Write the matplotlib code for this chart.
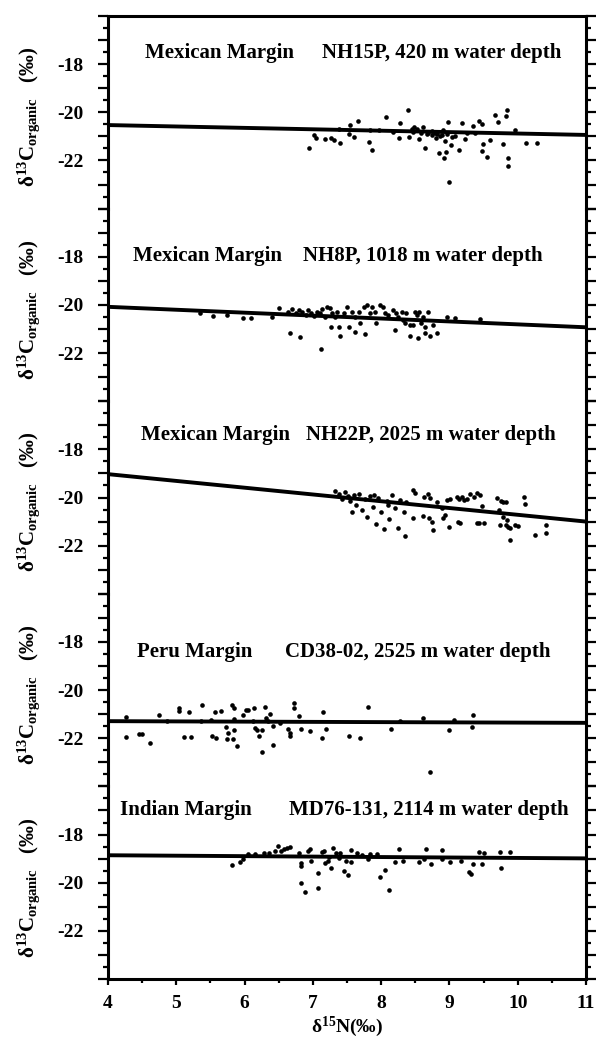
import matplotlib
matplotlib.use("Agg")
import matplotlib.pyplot as plt
from matplotlib.ticker import MultipleLocator, FixedLocator, FixedFormatter

plt.rcParams.update({
    "font.family": ["Liberation Serif", "DejaVu Serif"],
    "font.weight": "bold",
    "mathtext.fontset": "custom",
    "mathtext.rm": "Liberation Serif:bold",
    "mathtext.it": "Liberation Serif:italic:bold",
    "mathtext.bf": "Liberation Serif:bold",
})

# ---------------- data ----------------
sites = ["Mexican Margin", "Mexican Margin", "Mexican Margin", "Peru Margin", "Indian Margin"]
cores = ["NH15P, 420 m water depth", "NH8P, 1018 m water depth", "NH22P, 2025 m water depth",
         "CD38-02, 2525 m water depth", "MD76-131, 2114 m water depth"]

p1_x = [6.95, 7.01, 7.05, 7.18, 7.26, 7.31, 7.40, 7.39, 7.53, 7.54, 7.60, 7.66, 7.84, 7.82, 7.86,
        7.97, 8.07, 8.17, 8.26, 8.28, 8.40, 8.41, 8.45, 8.48, 8.53, 8.56, 8.62, 8.64, 8.69, 8.74,
        8.79, 8.81, 8.84, 8.89, 8.90, 8.93, 8.92, 8.95, 8.98, 9.00, 9.02, 9.14, 9.18, 9.23, 9.25,
        9.35, 9.37, 9.43, 9.47, 9.49, 9.47, 9.55, 9.59, 9.67, 9.71, 9.78, 9.83, 9.85, 9.86, 9.86,
        9.96, 10.12, 10.28, 8.67, 8.74, 8.82, 8.86, 8.96, 9.04, 9.08, 8.58, 8.47]
p1_y = [-21.49, -20.95, -21.08, -21.12, -21.05, -21.16, -21.28, -20.70, -20.91, -20.53, -21.01,
        -20.35, -20.74, -21.23, -21.56, -20.74, -20.18, -20.80, -21.05, -20.46, -19.90, -21.01,
        -20.70, -20.59, -20.70, -21.09, -20.63, -21.47, -20.84, -20.77, -20.84, -21.05, -21.68,
        -20.95, -20.74, -21.19, -21.91, -21.64, -20.39, -22.90, -21.36, -21.56, -20.45, -21.09,
        -20.88, -20.56, -20.84, -20.35, -20.49, -21.30, -21.61, -21.85, -21.16, -20.11, -20.39,
        -21.30, -20.17, -19.89, -21.89, -22.21, -20.73, -21.27, -21.27, -20.90, -20.94, -20.90,
        -20.98, -20.90, -21.02, -20.98, -20.85, -20.81]

p2_x = [5.74, 5.97, 6.10, 6.40, 6.51, 6.64, 6.69, 6.75, 6.79, 6.84, 6.90, 6.93, 6.97, 7.01, 7.06,
        7.10, 7.13, 7.18, 7.21, 7.25, 7.28, 7.26, 7.32, 7.36, 7.39, 7.45, 7.50, 7.53, 7.57, 7.62,
        7.67, 7.69, 7.75, 7.79, 7.83, 7.86, 7.91, 7.93, 7.98, 8.02, 8.06, 8.10, 8.18, 8.22, 8.25,
        8.30, 8.32, 8.35, 8.37, 8.42, 8.47, 8.50, 8.53, 8.56, 8.59, 8.62, 8.69, 8.64, 8.76, 8.97,
        5.35, 5.54, 7.12, 6.81, 6.67, 7.40, 7.62, 7.76, 8.20, 8.42, 8.54, 8.64, 8.72, 8.82, 9.08, 9.45]
p2_y = [-20.42, -20.53, -20.56, -20.49, -20.14, -20.28, -20.18, -20.32, -20.21, -20.28, -20.42,
        -20.21, -20.32, -20.46, -20.28, -20.35, -20.18, -20.49, -20.07, -20.14, -20.32, -20.90,
        -20.49, -20.28, -20.93, -20.35, -20.10, -20.93, -20.28, -20.49, -20.28, -20.76, -20.07,
        -20.00, -20.35, -20.10, -20.28, -20.76, -20.00, -20.10, -20.35, -20.42, -20.21, -20.35,
        -20.49, -20.28, -20.63, -20.76, -20.35, -20.83, -20.83, -20.28, -20.42, -20.28, -20.76,
        -20.49, -20.28, -20.90, -20.83, -20.49, -20.34, -20.46, -21.83, -21.33, -21.17, -21.29,
        -21.12, -21.21, -21.04, -21.29, -21.37, -21.17, -21.29, -21.17, -20.55, -20.60]

p3_x = [8.33, 8.35, 8.37, 8.46, 8.47, 8.50, 8.61, 8.63, 8.69, 8.72, 8.70, 8.76, 8.74, 8.82, 8.89,
        8.90, 8.93, 8.96, 9.00, 9.01, 9.11, 9.12, 9.15, 9.14, 9.19, 9.21, 9.25, 9.30, 9.36, 9.41,
        9.45, 9.48, 9.40, 9.44, 9.50, 9.69, 9.72, 9.74, 9.76, 9.79, 9.83, 9.79, 9.83, 9.86, 9.85,
        9.88, 9.89, 9.96, 10.01, 10.09, 10.10, 10.26, 10.41, 10.42,
        7.33, 7.38, 7.42, 7.47, 7.52, 7.55, 7.60, 7.63, 7.68, 7.72, 7.76, 7.80, 7.84, 7.88, 7.92,
        7.96, 8.00, 8.04, 8.08, 8.12, 8.16, 8.20, 8.24, 8.27, 7.58, 7.90, 8.10]
p3_y = [-20.61, -21.60, -20.17, -20.86, -19.69, -19.83, -20.77, -19.96, -19.87, -20.03, -20.86,
        -21.35, -21.00, -20.17, -20.45, -20.86, -20.73, -20.10, -21.21, -20.07, -19.96, -21.00,
        -21.07, -20.07, -19.99, -20.10, -20.07, -19.85, -19.99, -19.83, -19.90, -20.35, -21.04,
        -21.04, -21.04, -20.03, -20.52, -21.14, -20.13, -20.17, -20.17, -20.79, -21.14, -21.21,
        -20.93, -21.76, -21.28, -21.14, -21.18, -19.96, -20.27, -21.56, -21.49, -21.14,
        -19.75, -19.85, -20.05, -19.78, -19.95, -20.15, -19.90, -20.30, -19.85, -20.50, -20.05,
        -20.80, -19.95, -20.40, -21.10, -20.00, -20.60, -21.30, -20.15, -20.90, -19.90, -20.45,
        -21.25, -20.10, -20.60, -19.90, -20.30]

p4_x = [4.27, 4.26, 4.46, 4.50, 4.62, 4.75, 4.86, 5.04, 5.04, 5.18, 5.11, 5.21, 5.37, 5.36, 5.51,
        5.53, 5.58, 5.57, 5.66, 5.73, 5.76, 5.74, 5.81, 5.84, 5.84, 5.84, 5.83, 5.89, 5.98, 6.02,
        6.05, 6.14, 6.12, 6.15, 6.18, 6.21, 6.25, 6.26, 6.30, 6.32, 6.37, 6.35, 6.41, 6.42, 6.52,
        6.63, 6.66, 6.67, 6.73, 6.72, 6.80, 6.82, 6.96, 7.13, 7.15, 7.19, 7.53, 7.69, 7.81, 8.14,
        8.28, 8.62, 8.72, 8.99, 9.07, 9.34, 9.33]
p4_y = [-21.13, -21.93, -21.82, -21.82, -22.21, -21.05, -21.30, -20.74, -20.88, -20.92, -21.93,
        -21.93, -20.62, -21.30, -21.26, -21.90, -21.97, -20.92, -20.85, -21.55, -21.79, -22.04,
        -20.60, -20.76, -21.19, -21.65, -22.04, -22.32, -21.05, -20.81, -20.81, -20.76, -21.30,
        -21.58, -21.65, -21.89, -22.56, -21.65, -20.71, -21.16, -20.99, -21.30, -22.28, -21.51,
        -21.37, -21.61, -21.79, -21.89, -20.53, -20.74, -21.09, -21.61, -21.69, -22.00, -20.91,
        -21.61, -21.89, -22.00, -20.71, -21.61, -21.30, -21.16, -23.40, -21.65, -21.23, -21.05,
        -21.55]

p5_x = [5.81, 5.93, 5.97, 6.05, 6.16, 6.28, 6.36, 6.44, 6.49, 6.54, 6.58, 6.62, 6.66, 6.80, 6.83,
        6.82, 6.82, 6.88, 6.93, 6.98, 6.96, 7.07, 7.08, 7.13, 7.17, 7.18, 7.22, 7.24, 7.27, 7.30,
        7.34, 7.38, 7.40, 7.45, 7.48, 7.52, 7.56, 7.56, 7.64, 7.72, 7.81, 7.83, 7.94, 7.99, 8.05,
        8.12, 8.21, 8.26, 8.32, 8.55, 8.63, 8.66, 8.73, 8.89, 8.89, 9.01, 9.17, 9.29, 9.32, 9.34,
        9.44, 9.48, 9.50, 9.74, 9.75, 9.88]
p5_y = [-19.27, -19.13, -19.03, -18.80, -18.80, -18.76, -18.76, -18.69, -18.48, -18.69, -18.62,
        -18.55, -18.52, -18.76, -19.17, -19.31, -20.00, -20.37, -18.69, -19.08, -18.62, -19.59,
        -20.23, -18.72, -18.69, -19.17, -19.10, -18.94, -19.38, -18.55, -18.76, -18.97, -18.76,
        -19.52, -19.08, -19.68, -18.66, -19.13, -18.76, -18.83, -19.03, -18.80, -18.80, -19.77,
        -19.49, -20.32, -19.13, -18.62, -19.10, -19.13, -19.03, -18.62, -19.21, -18.66, -19.03,
        -19.14, -19.10, -19.54, -19.63, -19.21, -18.72, -19.21, -18.76, -18.72, -19.38, -18.72]

fit_x = [4, 11]
fit_y1 = [-20.53, -20.94]
fit_y2 = [-20.08, -20.93]
fit_y3 = [-19.03, -21.00]
fit_y4 = [-21.29, -21.36]
fit_y5 = [-18.86, -18.99]

xs = [p1_x, p2_x, p3_x, p4_x, p5_x]
ys = [p1_y, p2_y, p3_y, p4_y, p5_y]
fits = [fit_y1, fit_y2, fit_y3, fit_y4, fit_y5]

title_y = [-17.55, -17.95, -17.40, -18.42, -17.00]
site_x = [4.54, 4.37, 4.49, 4.42, 4.17]
core_x = [7.13, 6.86, 6.90, 6.59, 6.65]

ytick_vals = [-16, -17, -18, -19, -20, -21, -22, -23, -24]
ytick_labels = ["", "", "-18", "", "-20", "", "-22", "", ""]
xtick_vals = [4, 5, 6, 7, 8, 9, 10, 11]
xtick_labels = ["4", "5", "6", "7", "8", "9", "10", "11"]

# ---------------- figure ----------------
W, H = 596, 1042
fig = plt.figure(figsize=(W / 100, H / 100), dpi=100)
left_px, right_px = 108, 586
top_px, bottom_px = 16, 979
ph = (bottom_px - top_px) / 5.0

axes = []
for i in range(5):
    t = top_px + ph * i
    ax = fig.add_axes([left_px / W, 1 - (t + ph) / H, (right_px - left_px) / W, ph / H])
    ax.set_xlim(4, 11)
    ax.set_ylim(-24, -16)
    ax.patch.set_alpha(0)
    ax.plot(fit_x, fits[i], color="black", lw=2.8, solid_capstyle="butt", zorder=2)
    ax.scatter(xs[i], ys[i], s=11, c="black", linewidths=0, zorder=3)

    for side in ["left", "right", "top", "bottom"]:
        ax.spines[side].set_linewidth(2.2)
    ax.spines["top"].set_visible(i == 0)
    ax.spines["bottom"].set_visible(i == 4)

    ax.yaxis.set_major_locator(FixedLocator(ytick_vals))
    ax.yaxis.set_major_formatter(FixedFormatter(ytick_labels))
    ax.yaxis.set_minor_locator(MultipleLocator(0.5))
    ax.tick_params(axis="y", which="major", direction="out", length=7.5, width=1.6,
                   left=True, right=True, labelsize=14, pad=10)
    ax.tick_params(axis="y", which="minor", direction="out", length=3.6, width=1.6,
                   left=True, right=True)

    if i < 4:
        ax.tick_params(axis="x", which="both", bottom=False, top=False, labelbottom=False)
    else:
        ax.xaxis.set_major_locator(FixedLocator(xtick_vals))
        ax.xaxis.set_major_formatter(FixedFormatter(xtick_labels))
        ax.xaxis.set_minor_locator(MultipleLocator(0.5))
        ax.tick_params(axis="x", which="major", direction="out", length=4.5, width=1.6,
                       labelsize=14, pad=7)
        ax.tick_params(axis="x", which="minor", direction="out", length=3.0, width=1.6)
        ax.set_xlabel("δ$^{15}$N(‰)", fontsize=14, fontweight="bold", labelpad=2)

    ax.text(site_x[i], title_y[i], sites[i], fontsize=15, fontweight="bold",
            ha="left", va="center")
    ax.text(core_x[i], title_y[i], cores[i], fontsize=15, fontweight="bold",
            ha="left", va="center")
    ax.text(-0.167, 0.476, "δ$^{13}$C$_{\\mathrm{organic}}$   (‰)", transform=ax.transAxes,
            rotation=90, ha="center", va="center", fontsize=15, fontweight="bold")
    axes.append(ax)

fig.savefig("out.png", dpi=100)
